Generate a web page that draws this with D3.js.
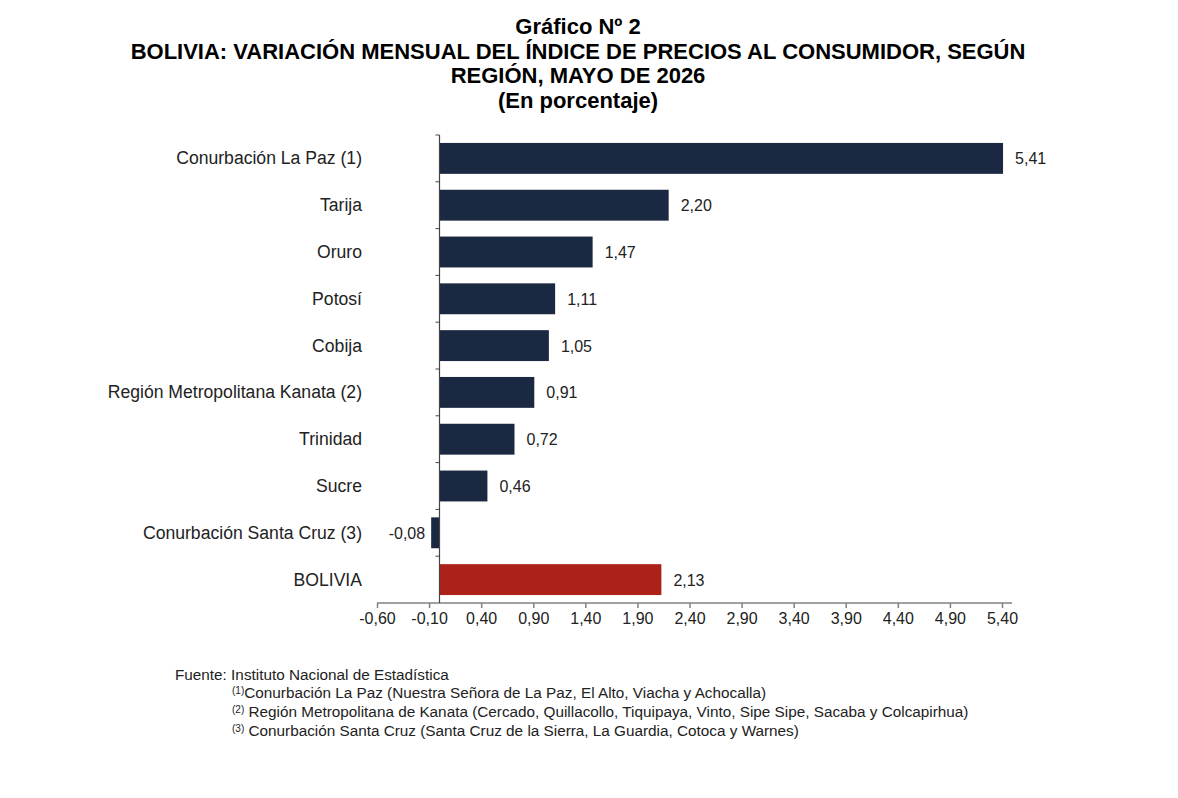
<!DOCTYPE html>
<html>
<head>
<meta charset="utf-8">
<script src="https://cdn.jsdelivr.net/npm/d3@7"></script>
<style>
  body { margin: 0; background: #fff; }
  text { font-family: "Liberation Sans", Arial, sans-serif; }
</style>
</head>
<body>
<script>
const regions = [
    "Conurbación La Paz (1)",
    "Tarija",
    "Oruro",
    "Potosí",
    "Cobija",
    "Región Metropolitana Kanata (2)",
    "Trinidad",
    "Sucre",
    "Conurbación Santa Cruz (3)",
    "BOLIVIA"
]
const values = [5.41, 2.20, 1.47, 1.11, 1.05, 0.91, 0.72, 0.46, -0.08, 2.13]
const ticks = [-0.60, -0.10, 0.40, 0.90, 1.40, 1.90, 2.40, 2.90, 3.40, 3.90, 4.40, 4.90, 5.40]
const titleLines = [
    "Gráfico Nº 2",
    "BOLIVIA: VARIACIÓN MENSUAL DEL ÍNDICE DE PRECIOS AL CONSUMIDOR, SEGÚN",
    "REGIÓN, MAYO DE 2026",
    "(En porcentaje)"
]
const notes = [
    ["(1)", "Conurbación La Paz (Nuestra Señora de La Paz, El Alto, Viacha y Achocalla)"],
    ["(2)", " Región Metropolitana de Kanata (Cercado, Quillacollo, Tiquipaya, Vinto, Sipe Sipe, Sacaba y Colcapirhua)"],
    ["(3)", " Conurbación Santa Cruz (Santa Cruz de la Sierra, La Guardia, Cotoca y Warnes)"]
]

const width = 1178, height = 798;
const fmt = function(v) { return d3.format(".2f")(v).replace(".", ",").replace("\u2212", "-"); };

const svg = d3.select("body").append("svg")
    .attr("width", width)
    .attr("height", height);

// title
svg.append("g").selectAll("text")
    .data(titleLines)
    .enter().append("text")
    .attr("x", 578)
    .attr("y", function(d, i) { return [34, 59, 83, 108][i]; })
    .attr("text-anchor", "middle")
    .attr("font-weight", "bold")
    .attr("font-size", 22)
    .attr("fill", "#000")
    .text(function(d) { return d; });

const x = d3.scaleLinear().domain([-0.6, 5.4]).range([377, 1002]);
const y = d3.scaleBand().domain(regions).range([135, 603]).paddingInner(0.34).paddingOuter(0.17);

// bars
svg.append("g").selectAll("rect")
    .data(values)
    .enter().append("rect")
    .attr("x", function(d) { return x(Math.min(0, d)); })
    .attr("width", function(d) { return Math.abs(x(d) - x(0)); })
    .attr("y", function(d, i) { return y(regions[i]); })
    .attr("height", y.bandwidth())
    .attr("fill", function(d, i) { return regions[i] == "BOLIVIA" ? "#ac2219" : "#1b2842"; });

// value labels
svg.append("g").selectAll("text")
    .data(values)
    .enter().append("text")
    .attr("x", function(d) { return d < 0 ? x(d) - 6 : x(d) + 12; })
    .attr("y", function(d, i) { return y(regions[i]) + y.bandwidth() / 2 + 6; })
    .attr("text-anchor", function(d) { return d < 0 ? "end" : "start"; })
    .attr("font-size", 16)
    .attr("fill", "#222")
    .text(function(d) { return fmt(d); });

// category labels
svg.append("g").selectAll("text")
    .data(regions)
    .enter().append("text")
    .attr("x", 362)
    .attr("y", function(d) { return y(d) + y.bandwidth() / 2 + 6; })
    .attr("text-anchor", "end")
    .attr("font-size", 17.6)
    .attr("fill", "#222")
    .text(function(d) { return d; });

// x axis
const xAxis = svg.append("g")
    .attr("transform", "translate(0,603)")
    .call(d3.axisBottom(x).tickValues(ticks).tickSize(5).tickSizeOuter(0).tickFormat(fmt));
xAxis.attr("font-size", 16);
xAxis.select(".domain").attr("d", "M377,0H1012").attr("stroke", "#808080").attr("stroke-width", 1.5);
xAxis.selectAll(".tick line").attr("stroke", "#808080").attr("stroke-width", 1.5);
xAxis.selectAll(".tick text")
    .attr("font-size", 16)
    .attr("fill", "#222")
    .attr("y", 10)
    .style("font-family", "'Liberation Sans', Arial, sans-serif");

// y axis at zero
const yAxis = svg.append("g")
    .attr("transform", "translate(" + x(0) + ",0)")
    .call(d3.axisLeft(y).tickSize(0).tickFormat(""));
yAxis.select(".domain").attr("d", "M0,135V603").attr("stroke", "#444").attr("stroke-width", 1.2);
const bounds = regions.slice(1).map(function(d) { return y(d) - y.step() * y.paddingInner() / 2; });
yAxis.selectAll(".sep")
    .data([135].concat(bounds))
    .enter().append("line")
    .attr("class", "sep")
    .attr("x1", -4).attr("x2", 0)
    .attr("y1", function(d) { return d; })
    .attr("y2", function(d) { return d; })
    .attr("stroke", "#444");

// source and notes
svg.append("text")
    .attr("x", 175).attr("y", 680)
    .attr("font-size", 15.3)
    .attr("fill", "#222")
    .text("Fuente: Instituto Nacional de Estadística");

const noteText = svg.append("g").selectAll("text")
    .data(notes)
    .enter().append("text")
    .attr("x", 232)
    .attr("y", function(d, i) { return 698 + i * 19; })
    .attr("font-size", 15.3)
    .attr("fill", "#222");
noteText.append("tspan")
    .attr("font-size", 10)
    .attr("dy", -4)
    .text(function(d) { return d[0]; });
noteText.append("tspan")
    .attr("dy", 4)
    .text(function(d) { return d[1]; });
</script>
</body>
</html>
